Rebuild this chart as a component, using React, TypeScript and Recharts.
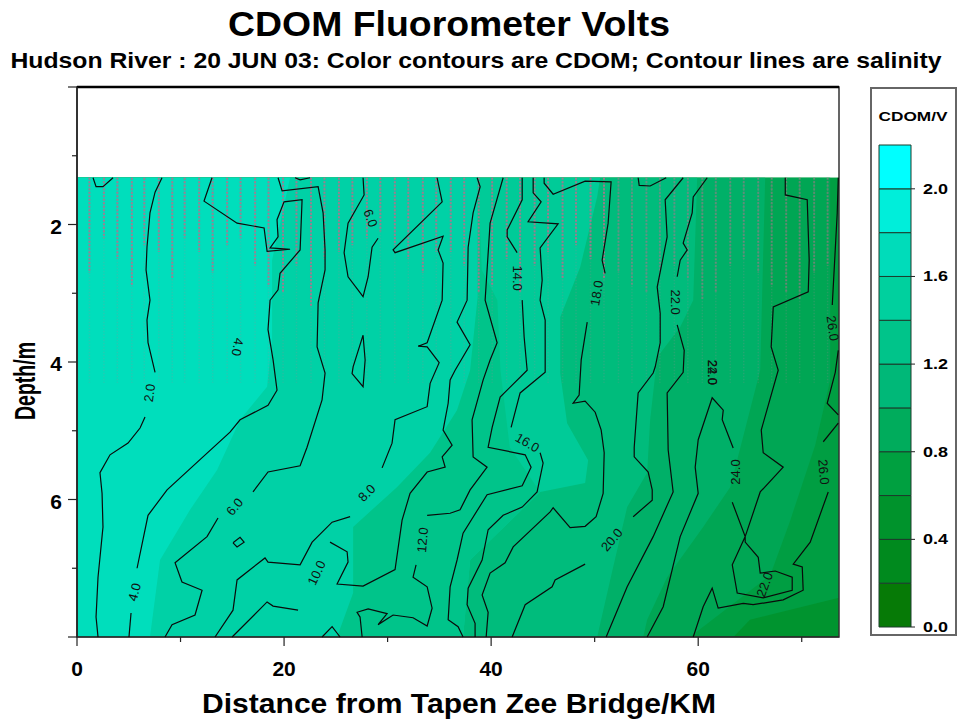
import { Area, Bar, BarChart, ComposedChart, ReferenceArea, ReferenceLine, Scatter, XAxis, YAxis } from "recharts"

type Pt = [number, number] // [km, depth]

const kmMax = 73.6
const depthTicks = [0, 1, 2, 3, 4, 5, 6, 7, 8]
const distanceTicks = [0, 10, 20, 30, 40, 50, 60, 70]

// colour contour edges, darkest painted first
const bandColors = ["#00942f", "#009e42", "#00a654", "#00b068", "#00bc7c", "#00cb98", "#00c48a", "#00d1a6", "#00debc"]
const edge0: Pt[] = [[kmMax, 1.32], [kmMax, 8]]
const edge1: Pt[] = [[kmMax, 1.32], [kmMax, 7.43], [65, 7.75], [63.4, 8]]
const edge2: Pt[] = [[72.75, 1.32], [72.75, 4.26], [71.3, 5.21], [68.9, 6.3], [66.96, 7.1], [59.2, 8]]
const edge3: Pt[] = [[66.47, 1.32], [65.99, 4.12], [63.09, 5.82], [60.48, 6.4], [57, 7.13], [55.07, 7.75], [54.69, 8]]
const edge4: Pt[] = [[59.9, 1.32], [59.52, 3.1], [58.26, 3.49], [56.04, 3.93], [55.36, 4.84], [55.07, 5.61], [53.14, 6.11], [51.79, 6.98], [50.24, 8]]
const edge5: Pt[] = [[50.53, 1.32], [50.24, 1.6], [48.6, 2.62], [46.67, 3.35], [46.67, 4.16], [47.34, 4.89], [49.37, 5.43], [49.08, 5.76], [44.73, 5.89], [37.97, 6.88], [37.29, 8]]
const edge6: Pt[] = [[38.7, 1.32], [39.1, 2.66], [40.6, 3.1], [40.9, 4.12], [41.8, 5.24], [44.73, 5.89], [37.97, 6.88], [37.29, 8]]
const edge7: Pt[] = [[38.7, 1.32], [38.7, 3.05], [37.97, 4.12], [36.7, 4.7], [34.1, 5.32], [30.9, 5.82], [26.67, 6.4], [26.67, 7.36], [25.12, 8]]
const edge8: Pt[] = [[20.58, 1.32], [18.84, 2.52], [18.84, 3.68], [18.36, 4.36], [15.75, 4.84], [13.53, 5.57], [10.92, 6.15], [8.02, 6.88], [7.05, 8]]
const bandEdges = [edge0, edge1, edge2, edge3, edge4, edge5, edge6, edge7, edge8]

// salinity contour lines
const sal2: Pt[][] = [
  [[1.55, 1.32], [1.84, 1.45], [2.51, 1.45], [3.48, 1.32]],
  [[8.21, 1.32], [7.54, 1.53], [7.05, 1.83], [6.76, 2.33], [6.67, 2.66], [7.05, 3.1], [6.76, 3.39], [6.86, 3.72], [7.54, 4.15]],
  [[6.57, 4.8], [6.09, 4.96], [4.93, 5.18], [3.19, 5.35], [2.22, 5.61], [2.42, 5.91], [2.51, 6.4], [2.03, 7.13], [1.84, 7.71], [2.03, 8]],
]
const sal4: Pt[][] = [
  [[13.04, 1.32], [12.27, 1.66], [15.46, 1.98], [18.07, 2.05], [18.36, 2.39], [20.58, 2.36], [18.65, 2.34], [19.42, 2.18], [19.32, 1.93], [20, 1.67], [21.74, 1.64], [21.55, 2.37], [19.61, 2.71], [19.42, 2.95], [18.65, 3.1], [18.45, 3.53], [18.94, 3.97], [19.32, 4.41], [18.45, 4.63], [15.75, 4.84], [14.78, 5.02], [12.17, 5.38], [8.7, 5.86], [6.86, 6.23], [5.8, 7]],
  [[5.22, 7.65], [5.02, 8]],
]
const sal6: Pt[][] = [
  [[19.42, 1.32], [19.81, 1.51], [23.29, 1.45], [23.77, 1.83], [23.96, 2.37], [23.96, 2.66], [23.29, 3.14], [23.19, 3.78], [23.96, 4.16], [23.67, 4.55], [22.22, 5.24], [21.55, 5.51], [18.45, 5.6], [17, 5.89]],
  [[13.62, 6.27], [12.56, 6.54], [9.47, 6.92], [10.14, 7.2], [12.08, 7.32], [11.4, 7.68], [9.18, 7.82], [8.5, 8]],
  [[21.06, 1.32], [21.55, 1.35], [22.51, 1.32]],
  [[27.63, 1.32], [27.73, 1.57], [26.18, 1.98], [25.8, 2.41], [26.18, 2.76], [27.63, 3.05], [28.12, 2.76], [28.5, 2.33], [29.08, 2.2]],
  [[27.63, 3.61], [26.67, 4.07], [26.57, 4.17], [27.63, 4.36], [27.83, 3.97], [27.63, 3.61]],
]
const sal8: Pt[][] = [
  [[34.78, 1.32], [35.27, 1.67], [30.53, 2.37], [30.72, 2.41], [35.36, 2.17], [34.88, 2.37], [35.36, 2.56], [35.27, 3.1], [33.82, 3.72], [32.95, 3.77], [33.82, 3.78], [34.98, 4.01], [34.11, 4.31], [33.82, 4.65], [30.72, 4.84], [30.43, 5.18], [29.47, 5.54]],
  [[26.38, 6.25], [24.64, 6.33], [22.71, 6.62], [21.55, 6.95], [18.45, 6.91], [18.16, 6.85], [15.46, 7.17], [15.07, 7.61], [13.33, 8]],
  [[15.07, 6.63], [15.75, 6.55], [16.14, 6.62], [15.46, 6.69], [15.07, 6.63]],
]
const sal10: Pt[][] = [
  [[14.98, 8], [18.36, 7.49], [18.94, 7.55], [21.35, 7.61]],
  [[24.44, 6.62], [26.09, 6.76], [26.18, 6.91], [25.12, 7.23], [27.63, 7.26], [30.72, 7.02], [31.4, 6.3], [32.17, 5.91], [33.82, 5.6], [35.56, 5.53], [35.27, 5.38], [36.23, 5.21], [35.36, 4.99], [35.85, 4.6], [36.04, 4.26], [36.52, 4.12], [37.97, 3.75], [36.71, 3.42], [37.68, 3.1], [37.78, 2.33], [38.26, 1.83], [38.94, 1.45], [38.65, 1.32]],
  [[23.67, 8], [24.64, 7.85], [25.41, 8]],
]
const sal12: Pt[][] = [
  [[27.54, 8], [27.34, 7.71], [27.05, 7.64], [28.12, 7.59], [29.95, 7.66], [29.08, 7.82], [30.53, 7.68], [32.46, 7.72], [33.82, 7.84], [34.3, 7.58], [33.82, 7.27], [32.46, 7.13], [32.75, 6.95]],
  [[33.82, 6.23], [36.04, 6.2], [37, 6.15], [37.97, 5.86], [39.61, 5.53], [38.26, 5.38], [38.16, 4.84], [39.23, 4.26], [39.9, 3.97], [40.58, 3.72], [39.42, 3.1], [39.9, 1.98], [41.16, 1.32]],
]
const sal14: Pt[][] = [
  [[43, 1.32], [43, 1.64], [41.55, 2.08], [41.55, 2.18], [42.51, 2.41]],
  [[43, 3.1], [43.19, 3.64], [43.48, 4.12], [40.87, 4.51], [40.1, 4.95], [39.71, 5.24], [43.29, 5.35], [43.86, 5.53], [43, 5.8], [39.61, 5.93], [37.29, 6.49], [36.71, 6.88], [36.04, 7.27], [35.85, 7.75], [36.81, 7.85], [37.29, 8]],
]
const sal16: Pt[][] = [
  [[44.06, 1.32], [44.06, 1.54], [44.83, 1.67], [43.57, 1.96], [46.47, 1.99], [44.73, 2.34], [44.93, 2.81], [44.73, 3.1], [45.22, 3.39], [45.22, 4.15], [42.8, 4.45], [41.93, 4.95]],
  [[44.73, 5.32], [45.02, 5.47], [44.44, 5.89], [43, 6.11], [41.16, 6.23], [39.71, 6.44], [39.13, 6.88], [37.78, 7.29], [37.68, 7.53], [38.45, 7.8], [38.45, 8]],
]
const sal18: Pt[][] = [
  [[39.52, 8], [39.71, 7.64], [39.13, 7.39], [39.9, 7.07], [41.35, 6.92], [42.13, 6.69], [45.7, 6.18], [45.99, 6.12], [47.63, 6.41], [49.08, 6.39], [50.14, 6.25], [50.82, 5.91], [50.92, 5.32], [50.63, 4.99], [50.05, 4.73], [49.08, 4.57], [47.92, 4.6], [48.5, 4.48], [48.7, 3.97], [49.28, 3.42]],
  [[51.01, 2.71], [50.72, 2.52], [51.3, 1.98], [51.59, 1.38], [49.08, 1.37], [45.99, 1.56], [45.12, 1.4], [45.12, 1.32]],
]
const sal20: Pt[][] = [
  [[42.03, 8], [43.29, 7.53], [45.89, 7.27], [46.18, 7.17], [49.08, 6.94]],
  [[53.72, 6.25], [55.56, 6.01], [55.56, 5.86], [55.17, 5.6], [53.82, 5.38], [53.82, 5.24], [54.2, 4.45], [55.65, 4.16], [55.85, 4.07], [56.33, 3.72], [56.33, 3.29], [56.04, 2.91], [57, 2.18], [56.81, 1.64], [58.55, 1.32]],
  [[54.2, 1.32], [54.3, 1.43], [55.36, 1.44], [56.91, 1.32]],
]
const sal22: Pt[][] = [
  [[51.11, 8], [53.14, 7.27], [55.65, 6.54], [57.58, 5.89], [57.1, 5.28], [57, 4.45], [58.55, 4.15], [58.65, 3.83], [57.97, 3.46]],
  [[57.97, 2.76], [58.26, 2.52], [58.94, 2.37], [58.55, 2.27], [59.42, 1.83], [59.52, 1.6], [60.87, 1.32]],
]
const sal24: Pt[][] = [
  [[55.07, 8], [56.62, 7.56], [58.26, 6.54], [60, 5.91], [59.71, 5.53], [60, 5.13], [61.35, 4.52], [62.42, 4.7], [62.32, 4.84], [63.38, 5.25]],
  [[63.29, 6.04], [64.54, 6.54], [64.54, 6.62], [65.8, 6.84], [65.99, 7.07], [67.44, 7.04], [69.08, 7.13], [69.08, 7.32], [66.28, 7.43], [63.77, 7.36], [63.29, 6.95], [64.54, 6.54], [65.99, 5.89], [68.21, 5.53], [66.28, 5.32], [66.09, 4.99], [67.73, 4.12], [67.05, 3.78], [67.25, 3.2], [70.63, 2.98], [70.72, 2.52], [70.53, 1.64], [68.41, 1.57], [68.41, 1.32]],
]
const sal26: Pt[][] = [
  [[59.52, 8], [60.48, 7.56], [61.35, 7.29], [61.93, 7.58], [64.35, 7.51], [65.31, 7.53], [68.21, 7.46], [70.14, 7.32], [70.05, 6.98], [69.18, 6.94], [70.82, 6.62], [72.56, 5.89]],
  [[72.08, 5.16], [73.53, 4.89]],
  [[73.53, 4.77], [72.46, 4.6], [73.24, 4.15], [73.53, 3.83]],
  [[72.95, 3.17], [73.43, 1.83], [73.53, 1.32]],
]
const salinityLines = [...sal2, ...sal4, ...sal6, ...sal8, ...sal10, ...sal12, ...sal14, ...sal16, ...sal18, ...sal20, ...sal22, ...sal24, ...sal26]

const contourLabels = [
  { km: 7.05, depth: 4.45, text: "2.0", angle: -82 },
  { km: 15.46, depth: 3.78, text: "4.0", angle: 100 },
  { km: 28.31, depth: 1.91, text: "6.0", angle: 70 },
  { km: 42.51, depth: 2.78, text: "14.0", angle: 90 },
  { km: 50.24, depth: 3, text: "18.0", angle: -80 },
  { km: 57.78, depth: 3.13, text: "22.0", angle: 90 },
  { km: 72.95, depth: 3.51, text: "26.0", angle: 82 },
  { km: 61.35, depth: 4.15, text: "24.0", angle: 90 },
  { km: 61.35, depth: 4.15, text: "22.0", angle: 90 },
  { km: 5.6, depth: 7.35, text: "4.0", angle: -75 },
  { km: 15.27, depth: 6.11, text: "6.0", angle: -50 },
  { km: 28.02, depth: 5.91, text: "8.0", angle: -45 },
  { km: 23.19, depth: 7.07, text: "10.0", angle: -65 },
  { km: 33.43, depth: 6.59, text: "12.0", angle: -85 },
  { km: 43.48, depth: 5.18, text: "16.0", angle: 30 },
  { km: 51.69, depth: 6.59, text: "20.0", angle: -50 },
  { km: 63.67, depth: 5.6, text: "24.0", angle: -90 },
  { km: 72.08, depth: 5.6, text: "26.0", angle: 85 },
  { km: 66.47, depth: 7.24, text: "22.0", angle: -70 },
]

// sample stations along the river and how deep the dotted trace stays visible
const stationKm = [1.2, 2.6, 3.9, 5.3, 6.5, 7.9, 9.2, 10.4, 11.8, 13.1, 14.5, 15.8, 17.2, 18.5, 19.9, 21.2, 22.6, 23.9, 25.3, 26.6, 28, 29.3, 30.7, 32, 33.4, 34.7, 36.1, 37.4, 38.8, 40.1, 41.5, 42.8, 44.2, 45.5, 46.9, 48.2, 49.6, 50.9, 52.3, 53.6, 55, 56.3, 57.7, 59, 60.4, 61.7, 63.1, 64.4, 65.8, 67.1, 68.5, 69.8, 71.2, 72.5]
const stationDepth = [2.7, 2.2, 2.5, 2.9, 2.3, 2.4, 2.8, 2.2, 2.4, 2.7, 2.3, 2.2, 2.6, 2.9, 3, 2.6, 3.2, 2.5, 2.4, 2.3, 2.2, 2.1, 2.3, 2.5, 2.7, 2.4, 2.4, 2.6, 3, 2.9, 2.5, 3, 2.6, 2.4, 2.8, 2.3, 2.5, 2.8, 2.7, 2.9, 3, 2.7, 2.6, 2.8, 3.1, 3, 2.6, 2.5, 2.7, 2.9, 3, 3.1, 2.7, 2.6]
const faintTraceDepth = 4.3

const legendValues = [0.2, 0.2, 0.2, 0.2, 0.2, 0.2, 0.2, 0.2, 0.2, 0.2, 0.2]
const legendColors = ["#067a06", "#008a1e", "#00932c", "#00a040", "#00ac5c", "#00b878", "#00c48a", "#00d09e", "#00dcba", "#00eeda", "#00ffff"]
const legendTicks = [0, 0.4, 0.8, 1.2, 1.6, 2]
const legendRow = [Object.fromEntries(legendValues.map((v, i) => [`step${i}`, v]))]

const font = "Liberation Sans, Arial, sans-serif"
const toRows = (pts: Pt[]) => pts.map(([km, depth]) => ({ km, depth }))
const NoDot = () => null

const DepthTick = ({ x, y, payload }: any) => {
  const major = payload.value % 2 === 0
  return (
    <g>
      <line x1={x - (major ? 9 : 5)} x2={x} y1={y} y2={y} stroke="#222" strokeWidth={1.2} />
      {major && payload.value > 0 && payload.value < 8 && (
        <text x={x - 15} y={y + 9} textAnchor="end" fontFamily={font} fontSize={21} fontWeight="bold" fill="#000">
          {payload.value}
        </text>
      )}
    </g>
  )
}

const DistanceTick = ({ x, y, payload }: any) => {
  const major = payload.value % 20 === 0
  return (
    <g>
      <line x1={x} x2={x} y1={y} y2={y + (major ? 9 : 5)} stroke="#222" strokeWidth={1.2} />
      {major && (
        <text x={x} y={y + 39} textAnchor="middle" fontFamily={font} fontSize={21} fontWeight="bold" fill="#000">
          {payload.value}
        </text>
      )}
    </g>
  )
}

const LegendTick = ({ x, y, payload }: any) => (
  <g>
    <line x1={x} x2={x + 4} y1={y} y2={y} stroke="#222" />
    <text x={x + 12} y={y + 5} fontFamily={font} fontSize={15} fontWeight="bold" fill="#000" textLength={25} lengthAdjust="spacingAndGlyphs">
      {payload.value.toFixed(1)}
    </text>
  </g>
)

const ContourLabel = (props: any) => {
  const row = props.payload ?? props
  return (
    <text
      x={props.cx}
      y={props.cy}
      dy={4}
      textAnchor="middle"
      fontFamily={font}
      fontSize={13}
      fill="#111"
      transform={`rotate(${row.angle} ${props.cx} ${props.cy})`}
    >
      {row.text}
    </text>
  )
}

export default function App() {
  return (
    <div style={{ position: "absolute", left: 0, top: 0, width: 958, height: 723, background: "#fff" }}>
      <ComposedChart
        layout="vertical"
        width={958}
        height={723}
        margin={{ top: 87, right: 119, bottom: 0, left: 0 }}
      >
        <XAxis
          type="number"
          dataKey="km"
          domain={[0, kmMax]}
          ticks={distanceTicks}
          interval={0}
          height={86}
          tickSize={0}
          tickMargin={0}
          tick={<DistanceTick />}
          axisLine={{ stroke: "#222" }}
        />
        <YAxis
          type="number"
          dataKey="depth"
          domain={[0, 8]}
          ticks={depthTicks}
          interval={0}
          width={77}
          tickSize={0}
          tickMargin={0}
          tick={<DepthTick />}
          axisLine={{ stroke: "#222", strokeWidth: 1.5 }}
        />
        {bandEdges.map((edge, i) => (
          <Area
            key={i}
            data={toRows(edge)}
            dataKey="km"
            stroke="none"
            fill={bandColors[i]}
            fillOpacity={1}
            dot={false}
            activeDot={false}
            isAnimationActive={false}
          />
        ))}
        {stationKm.map((km) => (
          <ReferenceLine
            key={`faint-${km}`}
            segment={[{ x: km, y: 1.32 }, { x: km, y: faintTraceDepth }]}
            stroke="#a08a95"
            strokeOpacity={0.22}
            strokeWidth={1.5}
            strokeDasharray="1.5 1.5"
          />
        ))}
        {stationKm.map((km, i) => (
          <ReferenceLine
            key={km}
            segment={[{ x: km, y: 1.32 }, { x: km, y: stationDepth[i] }]}
            stroke="#b5708c"
            strokeOpacity={km < 52 ? 0.85 : 0.5}
            strokeWidth={2}
            strokeDasharray="2 1.5"
          />
        ))}
        {salinityLines.map((pts, i) => (
          <Scatter
            key={i}
            data={toRows(pts)}
            line={{ stroke: "#0a0a0a", strokeWidth: 1.2 }}
            shape={NoDot}
            isAnimationActive={false}
          />
        ))}
        <Scatter data={contourLabels} shape={ContourLabel} isAnimationActive={false} />
        <ReferenceArea x1={0} x2={kmMax} y1={0} y2={8} fill="none" stroke="#333" strokeWidth={1.5} />
        <ReferenceLine y={0} stroke="#000" strokeWidth={2.5} />
        <text x={449} y={36} textAnchor="middle" fontFamily={font} fontSize={35} fontWeight="bold" textLength={442} lengthAdjust="spacingAndGlyphs">
          CDOM Fluorometer Volts
        </text>
        <text x={476} y={68} textAnchor="middle" fontFamily={font} fontSize={22} fontWeight="bold" textLength={931} lengthAdjust="spacingAndGlyphs">
          Hudson River : 20 JUN 03: Color contours are CDOM; Contour lines are salinity
        </text>
        <text x={459} y={713} textAnchor="middle" fontFamily={font} fontSize={27} fontWeight="bold" textLength={514} lengthAdjust="spacingAndGlyphs">
          Distance from Tapen Zee Bridge/KM
        </text>
        <text x={35} y={381} textAnchor="middle" fontFamily={font} fontSize={29} fontWeight="bold" textLength={78} lengthAdjust="spacingAndGlyphs" transform="rotate(-90 35 381)">
          Depth/m
        </text>
      </ComposedChart>

      <div style={{ position: "absolute", left: 870, top: 87, width: 87, height: 549, boxSizing: "border-box", border: "2px solid #666" }} />
      <div style={{ position: "absolute", left: 870, top: 87 }}>
        <BarChart
          width={87}
          height={549}
          data={legendRow}
          barCategoryGap={0}
          margin={{ top: 58, right: 0, bottom: 9, left: 9 }}
        >
          <XAxis hide type="category" />
          <YAxis
            orientation="right"
            type="number"
            domain={[0, 2.2]}
            ticks={legendTicks}
            interval={0}
            width={46}
            tickSize={0}
            tickMargin={0}
            tick={<LegendTick />}
            axisLine={false}
          />
          {legendValues.map((_, i) => (
            <Bar
              key={i}
              dataKey={`step${i}`}
              stackId="scale"
              fill={legendColors[i]}
              stroke="#1c3c2c"
              strokeWidth={1}
              isAnimationActive={false}
            />
          ))}
          <text x={43} y={34} textAnchor="middle" fontFamily={font} fontSize={13} fontWeight="bold" textLength={69} lengthAdjust="spacingAndGlyphs">
            CDOM/V
          </text>
        </BarChart>
      </div>
    </div>
  )
}
